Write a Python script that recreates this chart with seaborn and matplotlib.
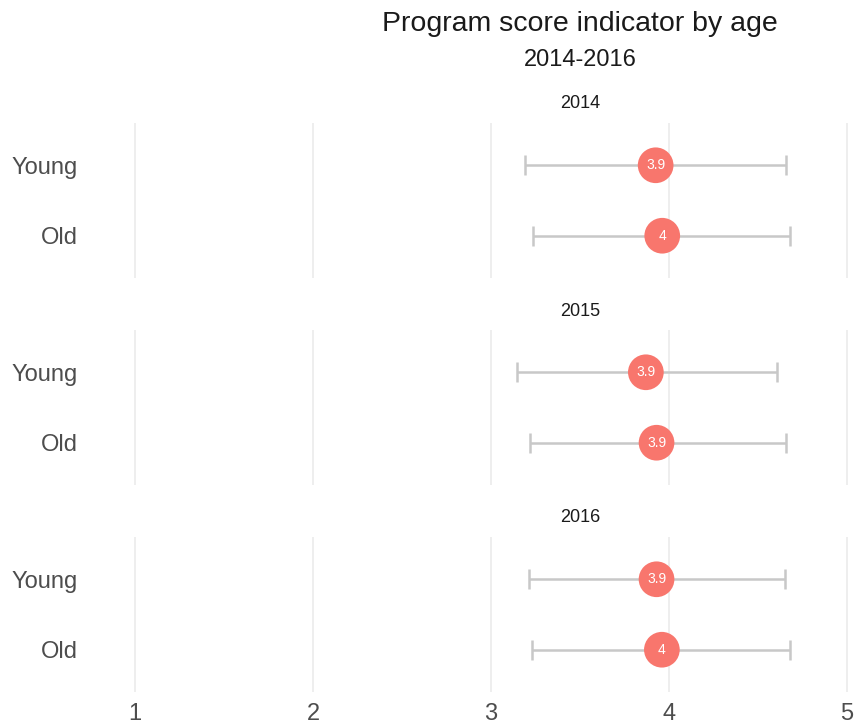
import matplotlib
matplotlib.use("Agg")
import pandas as pd
import matplotlib.pyplot as plt
import seaborn as sns

# valores
years = [2014, 2015, 2016]
ages = ["Young", "Old"]
mean_score = [3.925, 3.962, 3.87, 3.93, 3.93, 3.96]
lower = [3.19, 3.238, 3.144, 3.22, 3.215, 3.232]
upper = [4.655, 4.68, 4.605, 4.66, 4.65, 4.68]
x_breaks = [1, 2, 3, 4, 5, 6]

df = pd.DataFrame({
    "year": [y for y in years for _ in ages],
    "age": ages * len(years),
    "mean": mean_score,
    "lo": lower,
    "hi": upper,
})
df["ypos"] = df["age"].map({a: i for i, a in enumerate(ages)})

sns.set_theme(style="white")
plt.rcParams["font.family"] = ["Liberation Sans", "DejaVu Sans"]

g = sns.FacetGrid(df, row="year", height=2, aspect=4, sharex=True, sharey=True)

for ax, year in zip(g.axes.flat, years):
    sub = df[df["year"] == year]
    ax.errorbar(sub["mean"], sub["ypos"],
                xerr=[sub["mean"] - sub["lo"], sub["hi"] - sub["mean"]],
                fmt="none", ecolor="#C8C8C8", elinewidth=1.8,
                capsize=7.2, capthick=1.8, zorder=2)
    sns.scatterplot(data=sub, x="mean", y="ypos", color="#F8766D", s=660,
                    edgecolor="none", linewidth=0, legend=False, zorder=3, ax=ax)
    for _, r in sub.iterrows():
        ax.text(r["mean"], r["ypos"], f"{round(r['mean'], 1):g}", color="white",
                fontsize=10, ha="center", va="center", zorder=4)
    ax.text(0.5, 1 + 19 / 155, str(year), transform=ax.transAxes, ha="center",
            va="center", fontsize=13, color="#1A1A1A")
    ax.set_title("")
    ax.set_xlim(0.75, 6.25)
    ax.set_ylim(len(ages) - 1 + 0.6, -0.6)
    ax.set_xticks(x_breaks)
    ax.set_yticks(range(len(ages)))
    ax.set_yticklabels(ages)
    ax.set_xlabel("")
    ax.set_ylabel("")
    ax.grid(axis="x", color="#EBEBEB", linewidth=1.2)
    ax.grid(axis="y", visible=False)
    ax.set_axisbelow(True)
    for s in ax.spines.values():
        s.set_visible(False)
    ax.tick_params(axis="y", length=0, labelsize=17, labelcolor="#4D4D4D", pad=9)
    ax.tick_params(axis="x", length=0, labelsize=17, labelcolor="#4D4D4D", pad=8)

g.axes.flat[-1].set_xticklabels([str(b) for b in x_breaks])

fig = g.figure
fig.set_size_inches(8.56, 7.26)
W, H = 856, 726
tops = [123, 330, 537]
for ax, top in zip(g.axes.flat, tops):
    ax.set_position([90.5 / W, 1 - (top + 155) / H, 979 / W, 155 / H])

fig.text(580 / W, 1 - 24 / H, "Program score indicator by age", ha="center",
         va="center", fontsize=20.5, color="#1A1A1A")
fig.text(580 / W, 1 - 60 / H, "2014-2016", ha="center", va="center",
         fontsize=17, color="#1A1A1A")

fig.savefig("out.png", dpi=100)
